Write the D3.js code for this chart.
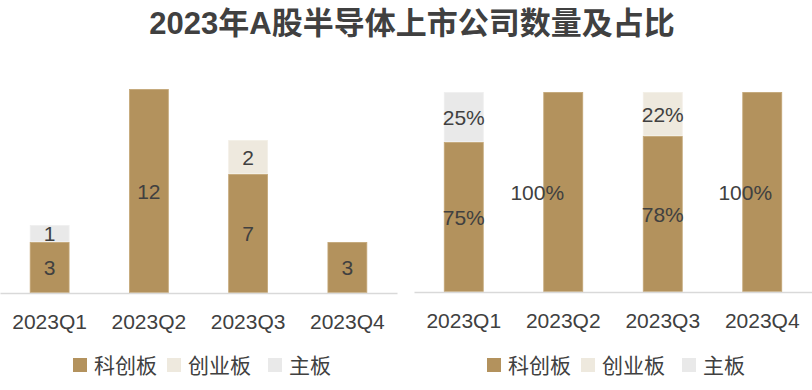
<!DOCTYPE html>
<html><head><meta charset="utf-8">
<script src="https://cdn.jsdelivr.net/npm/d3@7"></script>
<style>
html,body{margin:0;padding:0;background:#fff;}
svg{display:block;font-family:"Liberation Sans",Arial,"Noto Sans CJK SC",sans-serif;}
</style></head>
<body>
<svg id="c" width="812" height="390"></svg>
<script>
const title = "2023年A股半导体上市公司数量及占比";
const quarters = ["2023Q1","2023Q2","2023Q3","2023Q4"];
const seriesNames = ["科创板","创业板","主板"];
const kcbCount = [3,12,7,3];
const cybCount = [0,0,2,0];
const zbCount  = [1,0,0,0];
const kcbShare = [0.75,1.00,0.78,1.00];
const cybShare = [0,0,0.22,0];
const zbShare  = [0.25,0,0,0];

const colors = ["#b3925d","#eee9de","#e9e9e9"];
const strokes = ["#c4a777","#f3efe7","#efefef"];
const textColor = "#404040";
const svg = d3.select("#c");

svg.append("text").attr("x",412).attr("y",34).attr("text-anchor","middle")
  .attr("font-size",31).attr("font-weight","bold").attr("fill",textColor).text(title);

function panel(x0,x1,yBase,yTop,maxV,series,fmt,labelDx,legendX){
  const x = d3.scaleBand().domain(quarters).range([x0,x1]).paddingInner(0.6).paddingOuter(0.3);
  const y = d3.scaleLinear().domain([0,maxV]).range([yBase,yTop]);
  const g = svg.append("g");
  const rows = quarters.map((q,i)=>{const o={q}; seriesNames.forEach((s,j)=>o[s]=series[j][i]); return o;});
  const stacked = d3.stack().keys(seriesNames)(rows);
  stacked.forEach((layer,j)=>{
    g.selectAll(null).data(layer.filter(d=>d[1]-d[0]>0)).join("rect")
      .attr("x",d=>x(d.data.q)+0.4).attr("width",x.bandwidth()-0.8)
      .attr("y",d=>y(d[1])+0.4).attr("height",d=>Math.max(0,y(d[0])-y(d[1])-0.8))
      .attr("fill",colors[j]).attr("stroke",strokes[j]).attr("stroke-width",0.8);
  });
  stacked.forEach((layer,j)=>{
    g.selectAll(null).data(layer.filter(d=>d[1]-d[0]>0)).join("text")
      .attr("x",(d,i)=>x(d.data.q)+x.bandwidth()/2+(labelDx[d.data.q]||0))
      .attr("y",d=>(y(d[0])+y(d[1]))/2).attr("dy","0.36em")
      .attr("text-anchor","middle").attr("font-size",21).attr("fill",textColor)
      .text(d=>fmt(d[1]-d[0]));
  });
  const ax = g.append("g").attr("transform",`translate(0,${yBase})`)
    .call(d3.axisBottom(x).tickSize(0).tickPadding(0));
  ax.select(".domain").attr("stroke","#d9d9d9").attr("stroke-width",1.5);
  ax.selectAll("text").attr("font-size",21).attr("fill",textColor)
    .attr("font-family","'Liberation Sans',Arial,sans-serif").attr("dy",null).attr("y",36);
  // legend
  const lg = svg.append("g").attr("transform",`translate(${legendX},365)`);
  const offs = [0,94,195];
  seriesNames.forEach((s,j)=>{
    lg.append("rect").attr("x",offs[j]).attr("y",-7).attr("width",14).attr("height",14).attr("fill",colors[j]);
    lg.append("text").attr("x",offs[j]+21).attr("y",0).attr("dy","0.36em")
      .attr("font-size",21).attr("fill",textColor).text(s);
  });
}
panel(0,397,293,89,12,[kcbCount,cybCount,zbCount],d=>d3.format("d")(d),{},73);
panel(414,812,292,92,1,[kcbShare,cybShare,zbShare],d=>d3.format(".0%")(d),{"2023Q2":-26,"2023Q4":-17},487);
</script>
</body></html>
